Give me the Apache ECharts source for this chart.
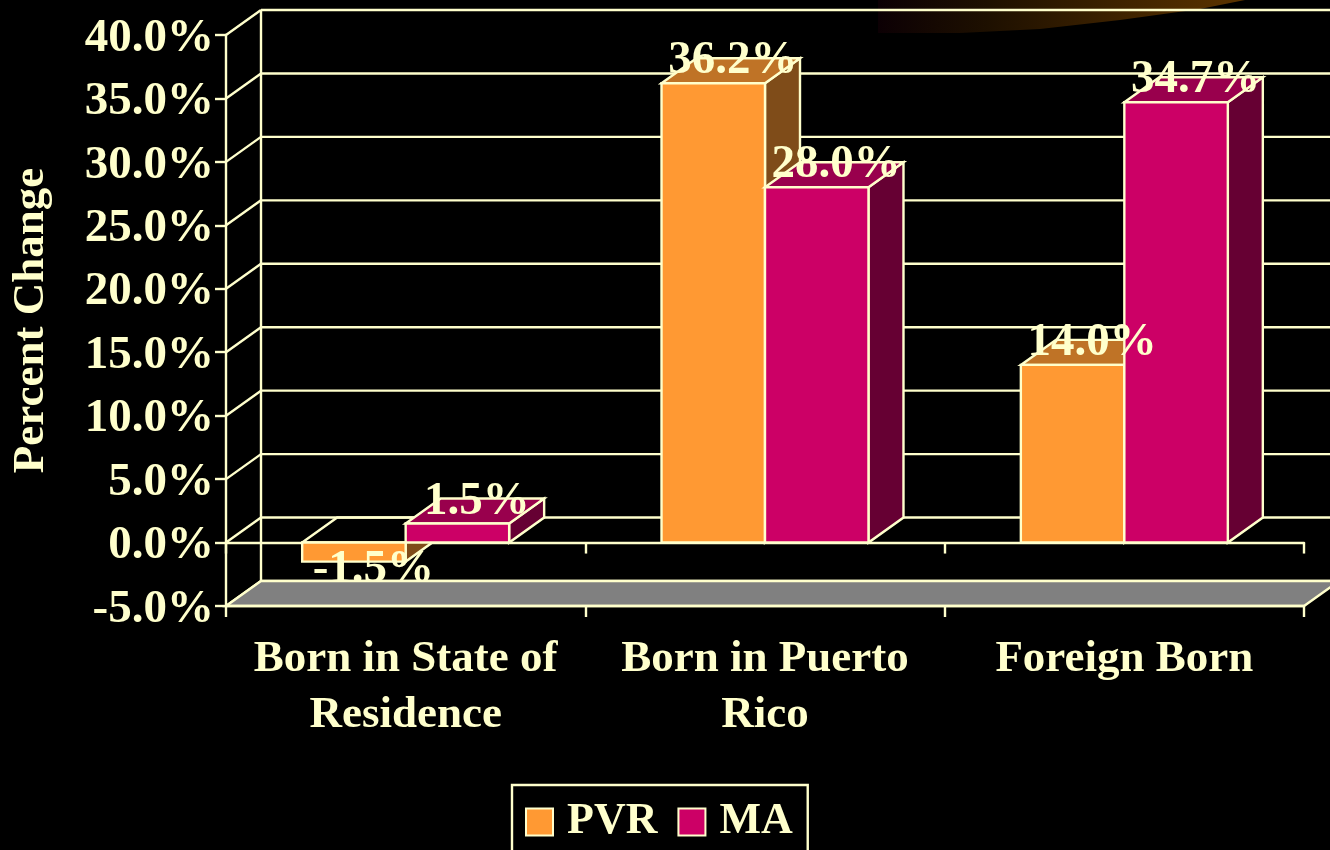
<!DOCTYPE html>
<html>
<head>
<meta charset="utf-8">
<style>
  html, body { margin: 0; padding: 0; background: #000; }
  #container { width: 1330px; height: 850px; }
</style>
<script src="https://cdn.jsdelivr.net/npm/echarts@6/dist/echarts.min.js"></script>
</head>
<body>
<div id="container"></div>
<script>
// data
var categories = ['Born in State of\nResidence', 'Born in Puerto\nRico', 'Foreign Born'];
var pvrValues = [-1.5, 36.2, 14.0];
var maValues = [1.5, 28.0, 34.7];
var wallTicks = [-5, 0, 5, 10, 15, 20, 25, 30, 35, 40];

var cream = '#FFFFCC';
var font = '"Liberation Serif", "Times New Roman", serif';
var DX = 35, DY = -25;   // depth of the fake 3d
var BAR_RATIO = 0.288;
var LINE = 2.4;

var faces = [
    { front: '#FF9933', top: '#BF7326', side: '#7F4C19' },
    { front: '#CC0066', top: '#99004D', side: '#660033' }
];

function poly(points, fill) {
    return {
        type: 'polygon',
        shape: { points: points },
        style: { fill: fill, stroke: cream, lineWidth: LINE, lineJoin: 'miter' }
    };
}

// left edge and y positions of one bar
function barBox(api, idx) {
    var cat = api.value(0), val = api.value(1);
    var zero = api.coord([cat, 0]);
    var w = api.size([1, 0])[0] * BAR_RATIO;
    return {
        x: idx === 0 ? zero[0] - w : zero[0],
        w: w,
        zero: zero[1],
        end: api.coord([cat, val])[1],
        val: val
    };
}

function renderBar(idx) {
    return function (params, api) {
        var b = barBox(api, idx), c = faces[idx];
        var r = b.x + b.w, high = Math.min(b.zero, b.end), low = Math.max(b.zero, b.end);
        return {
            type: 'group',
            children: [
                poly([[r, high], [r + DX, high + DY], [r + DX, low + DY], [r, low]], c.side),
                poly([[b.x, high], [b.x + DX, high + DY], [r + DX, high + DY], [r, high]], b.val < 0 ? 'rgba(0,0,0,0)' : c.top),
                poly([[b.x, high], [r, high], [r, low], [b.x, low]], c.front)
            ]
        };
    };
}

function renderLabel(idx) {
    return function (params, api) {
        var b = barBox(api, idx);
        var y = b.val < 0 ? b.end + 8 : b.end - 22;
        return {
            type: 'text',
            x: b.x + b.w / 2 + DX / 2 + 2,
            y: y,
            style: {
                text: b.val.toFixed(1) + '%',
                fill: cream,
                font: 'bold 47px ' + font,
                align: 'center',
                verticalAlign: 'middle'
            }
        };
    };
}

// back wall lines, one item per tick
function renderWall(params, api) {
    var g = params.coordSys;
    var y = api.coord([0, api.value(1)])[1];
    return {
        type: 'group',
        children: [
            { type: 'line', shape: { x1: g.x, y1: y, x2: g.x + DX, y2: y + DY }, style: { stroke: cream, lineWidth: LINE } },
            { type: 'line', shape: { x1: g.x + DX, y1: y + DY, x2: g.x + g.width + DX, y2: y + DY }, style: { stroke: cream, lineWidth: LINE } }
        ]
    };
}

function renderBackLine(params, api) {
    var g = params.coordSys;
    return {
        type: 'line',
        shape: { x1: g.x + DX, y1: g.y + DY, x2: g.x + DX, y2: g.y + g.height + DY },
        style: { stroke: cream, lineWidth: LINE }
    };
}

function renderFloor(params, api) {
    var g = params.coordSys;
    var y = api.coord([0, api.value(1)])[1];
    return poly([[g.x, y], [g.x + DX, y + DY], [g.x + g.width + DX, y + DY], [g.x + g.width, y]], '#808080');
}

function pairs(values) {
    return values.map(function (v, i) { return [i, v]; });
}

function customSeries(name, renderItem, data, z) {
    return { type: 'custom', name: name, renderItem: renderItem, data: data, encode: { x: 0, y: 1 }, clip: false, z: z, silent: true, animation: false };
}

var myChart = echarts.init(document.getElementById('container'), null, { renderer: 'canvas' });
myChart.setOption({
    backgroundColor: '#000',
    animation: false,
    textStyle: { fontFamily: font },
    grid: { left: 226, right: 26, top: 35, bottom: 244, containLabel: false, outerBoundsMode: 'none' },
    graphic: [{
        // dark smudge at the top of the slide
        type: 'polygon',
        z: -1,
        silent: true,
        shape: { points: [[878, 0], [878, 33], [960, 33], [1040, 29], [1120, 20], [1200, 9], [1245, 0]] },
        style: {
            fill: new echarts.graphic.LinearGradient(0, 0, 1, 0, [
                { offset: 0, color: '#0c0004' },
                { offset: 0.3, color: '#1e1000' },
                { offset: 1, color: '#5c3400' }
            ])
        }
    }],
    legend: {
        left: 512,
        top: 785,
        orient: 'horizontal',
        selectedMode: false,
        backgroundColor: '#000',
        borderColor: cream,
        borderWidth: LINE,
        padding: [15, 15, 40, 13],
        itemWidth: 27,
        itemHeight: 27,
        itemGap: 20,
        data: [
            { name: 'PVR', icon: 'rect', itemStyle: { color: faces[0].front, borderColor: cream, borderWidth: 2 } },
            { name: 'MA', icon: 'rect', itemStyle: { color: faces[1].front, borderColor: cream, borderWidth: 2 } }
        ],
        textStyle: { color: cream, fontFamily: font, fontWeight: 'bold', fontSize: 44, padding: [0, 0, 0, 9] }
    },
    xAxis: [{
        type: 'category',
        data: categories,
        position: 'bottom',
        axisLine: { onZero: false, lineStyle: { color: cream, width: LINE } },
        axisTick: { show: true, length: 11, lineStyle: { color: cream, width: LINE } },
        axisLabel: { color: cream, fontFamily: font, fontWeight: 'bold', fontSize: 45, lineHeight: 56, margin: 25, interval: 0 },
        z: 6
    }, {
        type: 'category',
        data: categories,
        position: 'top',
        axisLine: { onZero: true, lineStyle: { color: cream, width: LINE } },
        axisTick: { show: true, inside: true, length: 11, lineStyle: { color: cream, width: LINE } },
        axisLabel: { show: false }
    }],
    yAxis: {
        type: 'value',
        min: -5,
        max: 40,
        interval: 5,
        name: 'Percent Change',
        nameLocation: 'middle',
        nameGap: 172,
        nameTextStyle: { color: cream, fontFamily: font, fontWeight: 'bold', fontSize: 45 },
        axisLine: { show: true, onZero: false, lineStyle: { color: cream, width: LINE } },
        axisTick: { show: true, length: 11, lineStyle: { color: cream, width: LINE } },
        axisLabel: {
            color: cream, fontFamily: font, fontWeight: 'bold', fontSize: 47, margin: 12,
            formatter: function (v) { return '{t|' + v.toFixed(1) + '%}'; },
            rich: { t: { color: cream, fontFamily: font, fontWeight: 'bold', fontSize: 47, padding: [7, 0, 0, 0] } }
        },
        splitLine: { show: false }
    },
    series: [
        customSeries('wall', renderWall, wallTicks.map(function (v) { return [0, v]; }), 1),
        customSeries('back', renderBackLine, [[0, 0]], 1),
        customSeries('PVR', renderBar(0), pairs(pvrValues), 2),
        customSeries('MA', renderBar(1), pairs(maValues), 3),
        customSeries('PVR labels', renderLabel(0), pairs(pvrValues), 4),
        customSeries('MA labels', renderLabel(1), pairs(maValues), 4),
        customSeries('floor', renderFloor, [[0, -5]], 5)
    ]
});
</script>
</body>
</html>
